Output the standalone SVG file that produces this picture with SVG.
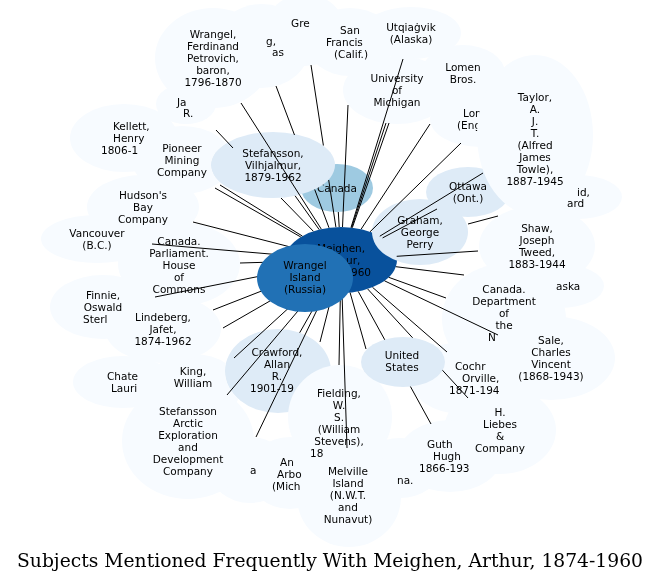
<svg xmlns="http://www.w3.org/2000/svg" width="661" height="583" viewBox="0 0 661 583">
<style>
text{font-family:"DejaVu Sans","Liberation Sans",sans-serif;font-size:10.5px;fill:#000;text-anchor:middle}
text.s{text-anchor:start}
.l{fill:#f7fbff;mix-blend-mode:darken}
.lo{fill:#f7fbff}
.m{fill:#deebf7}
.c4{fill:#9ecae1}
.d1{fill:#08519c}
.d2{fill:#2171b5}
#edges line{stroke:#000;stroke-width:1}
.title{font-family:"DejaVu Serif","Liberation Serif",serif;font-size:18.5px;text-anchor:middle}
</style>
<rect width="661" height="583" fill="#fff"/>
<g id="node-meighen"><ellipse class="d1" cx="341" cy="260" rx="56" ry="33"/><text x="341" y="252">Meighen,</text><text class="s" x="346" y="264">ur,</text><text class="s" x="351" y="276">960</text></g>
<g id="node-crawford"><ellipse class="m" cx="278" cy="371" rx="53" ry="42"/><text x="277" y="356">Crawford,</text><text x="277" y="368">Allan</text><text x="277" y="380">R.</text><text class="s" x="250" y="392">1901-19</text></g>
<g id="node-canada"><ellipse class="c4" cx="337" cy="188" rx="36" ry="24"/><text x="337" y="192">Canada</text></g>
<g id="node-ottawa"><ellipse class="m" cx="468" cy="192" rx="42" ry="25"/><text x="468" y="190">Ottawa</text><text x="468" y="202">(Ont.)</text></g>
<g id="node-graham"><ellipse class="m" cx="420" cy="232" rx="48" ry="33"/><text x="420" y="224">Graham,</text><text x="420" y="236">George</text><text x="420" y="248">Perry</text></g>
<g id="node-stefansson-v"><ellipse class="m" cx="273" cy="165" rx="62" ry="33"/><text x="273" y="157">Stefansson,</text><text x="273" y="169">Vilhjalmur,</text><text x="273" y="181">1879-1962</text></g>
<g id="node-wrangel-f"><ellipse class="l" cx="213" cy="58" rx="58" ry="50"/><text x="213" y="38">Wrangel,</text><text x="213" y="50">Ferdinand</text><text x="213" y="62">Petrovich,</text><text x="213" y="74">baron,</text><text x="213" y="86">1796-1870</text></g>
<g id="node-jar"><ellipse class="l" cx="186" cy="104" rx="30" ry="20"/><text class="s" x="177" y="106">Ja</text><text class="s" x="183" y="117">R.</text></g>
<g id="node-gas"><ellipse class="l" cx="262" cy="46" rx="48" ry="42"/><text class="s" x="266" y="45">g,</text><text class="s" x="272" y="56">as</text></g>
<g id="node-gre"><ellipse class="l" cx="305" cy="30" rx="40" ry="36"/><text class="s" x="291" y="27">Gre</text></g>
<g id="node-sanfrancisco"><ellipse class="l" cx="350" cy="42" rx="44" ry="34"/><text x="350" y="34">San</text><text class="s" x="326" y="46">Francis</text><text x="351" y="58">(Calif.)</text></g>
<g id="node-utqiagvik"><ellipse class="l" cx="411" cy="33" rx="50" ry="26"/><text x="411" y="31">Utqiaġvik</text><text x="411" y="43">(Alaska)</text></g>
<g id="node-umich"><ellipse class="l" cx="397" cy="90" rx="54" ry="34"/><text x="397" y="82">University</text><text x="397" y="94">of</text><text x="397" y="106">Michigan</text></g>
<g id="node-lomen"><ellipse class="l" cx="463" cy="73" rx="42" ry="28"/><text x="463" y="71">Lomen</text><text x="463" y="83">Bros.</text></g>
<g id="node-london"><ellipse class="l" cx="480" cy="119" rx="50" ry="28"/><text class="s" x="463" y="117">Lon</text><text class="s" x="457" y="129">(Eng</text></g>
<g id="node-idard"><ellipse class="l" cx="578" cy="197" rx="44" ry="22"/><text class="s" x="577" y="196">id,</text><text class="s" x="567" y="207">ard</text></g>
<g id="node-taylor"><ellipse class="lo" cx="535" cy="135" rx="58" ry="80"/><text x="535" y="101">Taylor,</text><text x="535" y="113">A.</text><text x="535" y="125">J.</text><text x="535" y="137">T.</text><text x="535" y="149">(Alfred</text><text x="535" y="161">James</text><text x="535" y="173">Towle),</text><text x="535" y="185">1887-1945</text></g>
<g id="node-shaw"><ellipse class="l" cx="537" cy="246" rx="58" ry="40"/><text x="537" y="232">Shaw,</text><text x="537" y="244">Joseph</text><text x="537" y="256">Tweed,</text><text x="537" y="268">1883-1944</text></g>
<g id="node-alaska"><ellipse class="l" cx="560" cy="286" rx="44" ry="22"/><text class="s" x="556" y="290">aska</text></g>
<g id="node-candept"><ellipse class="l" cx="504" cy="319" rx="62" ry="55"/><text x="504" y="293">Canada.</text><text x="504" y="305">Department</text><text x="504" y="317">of</text><text x="504" y="329">the</text><text class="s" x="488" y="341">N</text></g>
<g id="node-sale"><ellipse class="l" cx="551" cy="358" rx="64" ry="42"/><text x="551" y="344">Sale,</text><text x="551" y="356">Charles</text><text x="551" y="368">Vincent</text><text x="551" y="380">(1868-1943)</text></g>
<g id="node-cochrane"><ellipse class="l" cx="462" cy="378" rx="52" ry="36"/><text class="s" x="455" y="370">Cochr</text><text class="s" x="462" y="382">Orville,</text><text class="s" x="449" y="394">1871-194</text></g>
<g id="node-liebes"><ellipse class="l" cx="500" cy="430" rx="56" ry="44"/><text x="500" y="416">H.</text><text x="500" y="428">Liebes</text><text x="500" y="440">&amp;</text><text x="500" y="452">Company</text></g>
<g id="node-guthrie"><ellipse class="l" cx="450" cy="456" rx="52" ry="36"/><text class="s" x="427" y="448">Guth</text><text class="s" x="433" y="460">Hugh</text><text class="s" x="419" y="472">1866-193</text></g>
<g id="node-na"><ellipse class="l" cx="400" cy="468" rx="40" ry="30"/><text class="s" x="397" y="484">na.</text></g>
<g id="node-fielding"><ellipse class="lo" cx="340" cy="417" rx="52" ry="52"/><text x="339" y="397">Fielding,</text><text x="339" y="409">W.</text><text x="339" y="421">S.</text><text x="339" y="433">(William</text><text x="339" y="445">Stevens),</text><text class="s" x="310" y="457">18</text></g>
<g id="node-melville"><ellipse class="l" cx="349" cy="497" rx="52" ry="50"/><text x="348" y="475">Melville</text><text x="348" y="487">Island</text><text x="348" y="499">(N.W.T.</text><text x="348" y="511">and</text><text x="348" y="523">Nunavut)</text></g>
<g id="node-annarbor"><ellipse class="l" cx="290" cy="473" rx="42" ry="36"/><text class="s" x="280" y="466">An</text><text class="s" x="277" y="478">Arbo</text><text class="s" x="272" y="490">(Mich</text></g>
<g id="node-a"><ellipse class="l" cx="250" cy="470" rx="40" ry="33"/><text class="s" x="250" y="474">a</text></g>
<g id="node-stefansson-arctic"><ellipse class="l" cx="188" cy="441" rx="66" ry="58"/><text x="188" y="415">Stefansson</text><text x="188" y="427">Arctic</text><text x="188" y="439">Exploration</text><text x="188" y="451">and</text><text x="188" y="463">Development</text><text x="188" y="475">Company</text></g>
<g id="node-king"><ellipse class="l" cx="193" cy="388" rx="48" ry="34"/><text x="193" y="375">King,</text><text x="193" y="387">William</text></g>
<g id="node-chate"><ellipse class="l" cx="123" cy="382" rx="50" ry="26"/><text class="s" x="107" y="380">Chate</text><text class="s" x="111" y="392">Lauri</text></g>
<g id="node-lindeberg"><ellipse class="l" cx="163" cy="329" rx="58" ry="34"/><text x="163" y="321">Lindeberg,</text><text x="163" y="333">Jafet,</text><text x="163" y="345">1874-1962</text></g>
<g id="node-finnie"><ellipse class="l" cx="103" cy="307" rx="53" ry="32"/><text x="103" y="299">Finnie,</text><text x="103" y="311">Oswald</text><text class="s" x="83" y="323">Sterl</text></g>
<g id="node-canparl"><ellipse class="l" cx="179" cy="264" rx="61" ry="42"/><text x="179" y="245">Canada.</text><text x="179" y="257">Parliament.</text><text x="179" y="269">House</text><text x="179" y="281">of</text><text x="179" y="293">Commons</text></g>
<g id="node-vancouver"><ellipse class="l" cx="97" cy="239" rx="56" ry="24"/><text x="97" y="237">Vancouver</text><text x="97" y="249">(B.C.)</text></g>
<g id="node-hudson"><ellipse class="l" cx="143" cy="207" rx="56" ry="32"/><text x="143" y="199">Hudson's</text><text x="143" y="211">Bay</text><text x="143" y="223">Company</text></g>
<g id="node-kellett"><ellipse class="l" cx="124" cy="138" rx="54" ry="34"/><text class="s" x="113" y="130">Kellett,</text><text class="s" x="113" y="142">Henry</text><text class="s" x="101" y="154">1806-1</text></g>
<g id="node-pioneer"><ellipse class="l" cx="182" cy="160" rx="50" ry="34"/><text x="182" y="152">Pioneer</text><text x="182" y="164">Mining</text><text x="182" y="176">Company</text></g>
<g id="edges">
<line x1="321.3" y1="229.1" x2="241" y2="103"/>
<line x1="276" y1="86" x2="294.5" y2="135"/>
<line x1="314.7" y1="189.5" x2="329" y2="227.8"/>
<line x1="311" y1="65" x2="323.4" y2="145.5"/>
<line x1="328.7" y1="180" x2="335.9" y2="227.1"/>
<line x1="342.5" y1="227" x2="348" y2="105"/>
<line x1="351" y1="227.5" x2="403" y2="59"/>
<line x1="351.6" y1="227.6" x2="386" y2="123"/>
<line x1="352.3" y1="227.7" x2="389" y2="123"/>
<line x1="361.1" y1="229.2" x2="430" y2="124"/>
<line x1="370" y1="231.8" x2="461" y2="143"/>
<line x1="379.8" y1="236.2" x2="483" y2="173"/>
<line x1="382.6" y1="237.9" x2="437" y2="209"/>
<line x1="468" y1="224" x2="498" y2="216"/>
<line x1="396.7" y1="256.3" x2="478" y2="251"/>
<line x1="395.8" y1="266.7" x2="464" y2="275"/>
<line x1="388.7" y1="277.3" x2="446" y2="298"/>
<line x1="384.5" y1="280.8" x2="498" y2="335"/>
<line x1="372.5" y1="287.3" x2="447" y2="352"/>
<line x1="367.7" y1="289" x2="468" y2="398"/>
<line x1="358.2" y1="291.4" x2="431" y2="424"/>
<line x1="350.1" y1="292.6" x2="366" y2="349"/>
<line x1="342" y1="293" x2="347" y2="448"/>
<line x1="340.4" y1="293" x2="339" y2="365"/>
<line x1="323.2" y1="291.3" x2="299.7" y2="332.7"/>
<line x1="332.6" y1="292.6" x2="320" y2="342"/>
<line x1="325.7" y1="291.8" x2="256" y2="437"/>
<line x1="316.1" y1="289.5" x2="227" y2="395"/>
<line x1="310.7" y1="287.8" x2="234" y2="358"/>
<line x1="301" y1="283.1" x2="223" y2="328"/>
<line x1="294.3" y1="278.2" x2="213" y2="310"/>
<line x1="287.9" y1="270.6" x2="155" y2="297"/>
<line x1="285.1" y1="261.7" x2="240" y2="263"/>
<line x1="285.6" y1="255.3" x2="152" y2="244"/>
<line x1="289.7" y1="246.8" x2="193" y2="222"/>
<line x1="300.8" y1="237" x2="215" y2="188"/>
<line x1="302.4" y1="236.1" x2="220" y2="185"/>
<line x1="216" y1="130" x2="233" y2="148"/>
<line x1="281" y1="198" x2="313.4" y2="231.3"/>
<line x1="295.1" y1="195.8" x2="319.2" y2="229.6"/>
<line x1="338.3" y1="212" x2="339.2" y2="227"/>
</g>
<g id="node-wrangel-island"><ellipse class="d2" cx="305" cy="278" rx="48" ry="34"/><text x="305" y="269">Wrangel</text><text x="305" y="281">Island</text><text x="305" y="293">(Russia)</text></g>
<g id="node-united-states"><ellipse class="m" cx="403" cy="362" rx="42" ry="25"/><text x="402" y="359">United</text><text x="402" y="371">States</text></g>
<text class="title" x="330" y="567" textLength="626" lengthAdjust="spacingAndGlyphs">Subjects Mentioned Frequently With Meighen, Arthur, 1874-1960</text>
</svg>
